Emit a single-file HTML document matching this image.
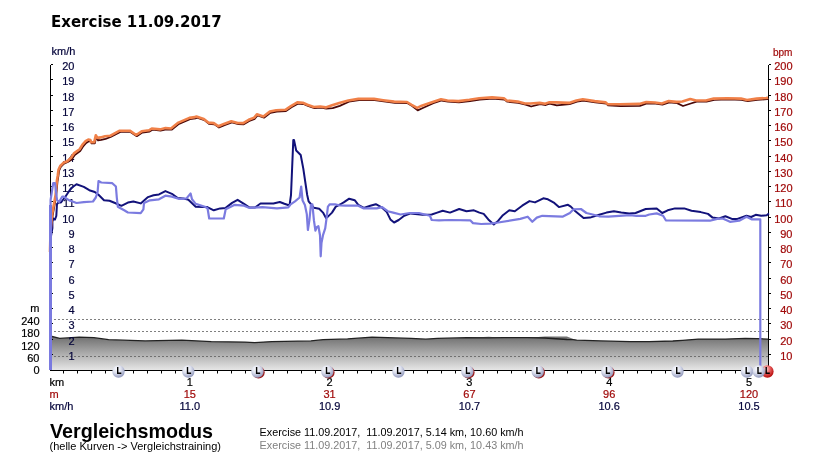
<!DOCTYPE html>
<html><head><meta charset="utf-8"><style>
html,body{margin:0;padding:0;background:#fff;}
body{width:818px;height:464px;overflow:hidden;position:relative;}
.t{position:absolute;white-space:pre;line-height:1;}
</style></head><body>
<svg width="818" height="464" viewBox="0 0 818 464" style="position:absolute;left:0;top:0">
<defs>
<linearGradient id="eg" x1="0" y1="336" x2="0" y2="370" gradientUnits="userSpaceOnUse">
<stop offset="0" stop-color="#6e6e6e"/><stop offset="1" stop-color="#e6e6e6"/></linearGradient>
<radialGradient id="bg" cx="0.38" cy="0.3" r="0.75"><stop offset="0" stop-color="#ffffff"/><stop offset="0.45" stop-color="#dde0ee"/><stop offset="1" stop-color="#8a92b8"/></radialGradient>
<radialGradient id="rg2" cx="0.38" cy="0.3" r="0.75"><stop offset="0" stop-color="#f0c0c0"/><stop offset="0.5" stop-color="#c04040"/><stop offset="1" stop-color="#901010"/></radialGradient>
<radialGradient id="rg" cx="0.38" cy="0.3" r="0.75"><stop offset="0" stop-color="#ffe0e0"/><stop offset="0.45" stop-color="#e86060"/><stop offset="1" stop-color="#b00000"/></radialGradient>
</defs>
<line x1="50" y1="319.5" x2="768" y2="319.5" stroke="#808080" stroke-width="1" stroke-dasharray="2,2"/>
<line x1="50" y1="331.5" x2="768" y2="331.5" stroke="#808080" stroke-width="1" stroke-dasharray="2,2"/>
<line x1="50" y1="356.5" x2="768" y2="356.5" stroke="#808080" stroke-width="1" stroke-dasharray="2,2"/>
<path d="M50,370 L50.0,336.0 L59.7,338.4 L79.2,337.2 L93.9,337.7 L108.6,339.7 L145.2,340.9 L181.9,340.2 L211.3,341.6 L245.0,342.1 L254.7,342.6 L271.8,341.6 L310.9,340.9 L323.1,339.7 L347.6,338.9 L372.0,337.2 L411.1,338.4 L425.8,339.2 L437.3,338.4 L466.7,337.7 L488.7,336.7 L503.3,337.7 L527.8,337.7 L544.9,336.5 L566.9,336.5 L576.7,340.2 L601.1,340.9 L630.0,341.6 L649.3,341.6 L672.8,341.0 L682.6,340.3 L698.2,339.1 L725.6,339.1 L745.2,338.3 L757.0,338.7 L768.0,339.1 L768,370 Z" fill="url(#eg)"/>
<polyline points="50.0,336.0 59.7,338.4 79.2,337.2 93.9,337.7 108.6,339.7 145.2,340.9 181.9,340.2 211.3,341.6 245.0,342.1 254.7,342.6 271.8,341.6 310.9,340.9 323.1,339.7 347.6,338.9 372.0,337.2 411.1,338.4 425.8,339.2 437.3,338.4 466.7,337.7 488.7,337.8 503.3,337.7 527.8,337.7 544.9,338.0 566.9,339.5 573.0,339.6 576.7,340.2 601.1,340.9 630.0,341.6 649.3,341.6 672.8,341.0 682.6,340.3 698.2,339.1 725.6,339.1 745.2,338.3 757.0,338.7 768.0,339.1" fill="none" stroke="#222" stroke-width="1.3"/>
<line x1="50" y1="356.5" x2="768" y2="356.5" stroke="#707070" stroke-width="1" stroke-dasharray="2,2"/>
<line x1="50.5" y1="65" x2="50.5" y2="370" stroke="#000" stroke-width="1"/>
<line x1="768.5" y1="65" x2="768.5" y2="370" stroke="#000" stroke-width="1"/>
<line x1="50" y1="370.5" x2="769" y2="370.5" stroke="#000" stroke-width="1"/>
<line x1="51" y1="354.5" x2="53" y2="354.5" stroke="#000" stroke-width="1"/>
<line x1="769" y1="354.5" x2="771" y2="354.5" stroke="#000" stroke-width="1"/>
<line x1="51" y1="339.5" x2="53" y2="339.5" stroke="#000" stroke-width="1"/>
<line x1="769" y1="339.5" x2="771" y2="339.5" stroke="#000" stroke-width="1"/>
<line x1="51" y1="323.5" x2="53" y2="323.5" stroke="#000" stroke-width="1"/>
<line x1="769" y1="323.5" x2="771" y2="323.5" stroke="#000" stroke-width="1"/>
<line x1="51" y1="308.5" x2="53" y2="308.5" stroke="#000" stroke-width="1"/>
<line x1="769" y1="308.5" x2="771" y2="308.5" stroke="#000" stroke-width="1"/>
<line x1="51" y1="293.5" x2="53" y2="293.5" stroke="#000" stroke-width="1"/>
<line x1="769" y1="293.5" x2="771" y2="293.5" stroke="#000" stroke-width="1"/>
<line x1="51" y1="278.5" x2="53" y2="278.5" stroke="#000" stroke-width="1"/>
<line x1="769" y1="278.5" x2="771" y2="278.5" stroke="#000" stroke-width="1"/>
<line x1="51" y1="262.5" x2="53" y2="262.5" stroke="#000" stroke-width="1"/>
<line x1="769" y1="262.5" x2="771" y2="262.5" stroke="#000" stroke-width="1"/>
<line x1="51" y1="247.5" x2="53" y2="247.5" stroke="#000" stroke-width="1"/>
<line x1="769" y1="247.5" x2="771" y2="247.5" stroke="#000" stroke-width="1"/>
<line x1="51" y1="232.5" x2="53" y2="232.5" stroke="#000" stroke-width="1"/>
<line x1="769" y1="232.5" x2="771" y2="232.5" stroke="#000" stroke-width="1"/>
<line x1="51" y1="217.5" x2="53" y2="217.5" stroke="#000" stroke-width="1"/>
<line x1="769" y1="217.5" x2="771" y2="217.5" stroke="#000" stroke-width="1"/>
<line x1="51" y1="201.5" x2="53" y2="201.5" stroke="#000" stroke-width="1"/>
<line x1="769" y1="201.5" x2="771" y2="201.5" stroke="#000" stroke-width="1"/>
<line x1="51" y1="186.5" x2="53" y2="186.5" stroke="#000" stroke-width="1"/>
<line x1="769" y1="186.5" x2="771" y2="186.5" stroke="#000" stroke-width="1"/>
<line x1="51" y1="171.5" x2="53" y2="171.5" stroke="#000" stroke-width="1"/>
<line x1="769" y1="171.5" x2="771" y2="171.5" stroke="#000" stroke-width="1"/>
<line x1="51" y1="156.5" x2="53" y2="156.5" stroke="#000" stroke-width="1"/>
<line x1="769" y1="156.5" x2="771" y2="156.5" stroke="#000" stroke-width="1"/>
<line x1="51" y1="140.5" x2="53" y2="140.5" stroke="#000" stroke-width="1"/>
<line x1="769" y1="140.5" x2="771" y2="140.5" stroke="#000" stroke-width="1"/>
<line x1="51" y1="125.5" x2="53" y2="125.5" stroke="#000" stroke-width="1"/>
<line x1="769" y1="125.5" x2="771" y2="125.5" stroke="#000" stroke-width="1"/>
<line x1="51" y1="110.5" x2="53" y2="110.5" stroke="#000" stroke-width="1"/>
<line x1="769" y1="110.5" x2="771" y2="110.5" stroke="#000" stroke-width="1"/>
<line x1="51" y1="95.5" x2="53" y2="95.5" stroke="#000" stroke-width="1"/>
<line x1="769" y1="95.5" x2="771" y2="95.5" stroke="#000" stroke-width="1"/>
<line x1="51" y1="79.5" x2="53" y2="79.5" stroke="#000" stroke-width="1"/>
<line x1="769" y1="79.5" x2="771" y2="79.5" stroke="#000" stroke-width="1"/>
<line x1="51" y1="64.5" x2="53" y2="64.5" stroke="#000" stroke-width="1"/>
<line x1="769" y1="64.5" x2="771" y2="64.5" stroke="#000" stroke-width="1"/>
<line x1="63.5" y1="370" x2="63.5" y2="373.5" stroke="#000" stroke-width="1"/>
<line x1="77.5" y1="370" x2="77.5" y2="373.5" stroke="#000" stroke-width="1"/>
<line x1="91.5" y1="370" x2="91.5" y2="373.5" stroke="#000" stroke-width="1"/>
<line x1="105.5" y1="370" x2="105.5" y2="373.5" stroke="#000" stroke-width="1"/>
<line x1="119.5" y1="370" x2="119.5" y2="373.5" stroke="#000" stroke-width="1"/>
<line x1="133.5" y1="370" x2="133.5" y2="373.5" stroke="#000" stroke-width="1"/>
<line x1="147.5" y1="370" x2="147.5" y2="373.5" stroke="#000" stroke-width="1"/>
<line x1="161.5" y1="370" x2="161.5" y2="373.5" stroke="#000" stroke-width="1"/>
<line x1="175.5" y1="370" x2="175.5" y2="373.5" stroke="#000" stroke-width="1"/>
<line x1="189.5" y1="370" x2="189.5" y2="373.5" stroke="#000" stroke-width="1"/>
<line x1="203.5" y1="370" x2="203.5" y2="373.5" stroke="#000" stroke-width="1"/>
<line x1="217.5" y1="370" x2="217.5" y2="373.5" stroke="#000" stroke-width="1"/>
<line x1="231.5" y1="370" x2="231.5" y2="373.5" stroke="#000" stroke-width="1"/>
<line x1="245.5" y1="370" x2="245.5" y2="373.5" stroke="#000" stroke-width="1"/>
<line x1="259.5" y1="370" x2="259.5" y2="373.5" stroke="#000" stroke-width="1"/>
<line x1="273.5" y1="370" x2="273.5" y2="373.5" stroke="#000" stroke-width="1"/>
<line x1="287.5" y1="370" x2="287.5" y2="373.5" stroke="#000" stroke-width="1"/>
<line x1="301.5" y1="370" x2="301.5" y2="373.5" stroke="#000" stroke-width="1"/>
<line x1="315.5" y1="370" x2="315.5" y2="373.5" stroke="#000" stroke-width="1"/>
<line x1="329.5" y1="370" x2="329.5" y2="373.5" stroke="#000" stroke-width="1"/>
<line x1="343.5" y1="370" x2="343.5" y2="373.5" stroke="#000" stroke-width="1"/>
<line x1="357.5" y1="370" x2="357.5" y2="373.5" stroke="#000" stroke-width="1"/>
<line x1="371.5" y1="370" x2="371.5" y2="373.5" stroke="#000" stroke-width="1"/>
<line x1="385.5" y1="370" x2="385.5" y2="373.5" stroke="#000" stroke-width="1"/>
<line x1="399.5" y1="370" x2="399.5" y2="373.5" stroke="#000" stroke-width="1"/>
<line x1="413.5" y1="370" x2="413.5" y2="373.5" stroke="#000" stroke-width="1"/>
<line x1="427.5" y1="370" x2="427.5" y2="373.5" stroke="#000" stroke-width="1"/>
<line x1="441.5" y1="370" x2="441.5" y2="373.5" stroke="#000" stroke-width="1"/>
<line x1="455.5" y1="370" x2="455.5" y2="373.5" stroke="#000" stroke-width="1"/>
<line x1="469.5" y1="370" x2="469.5" y2="373.5" stroke="#000" stroke-width="1"/>
<line x1="483.5" y1="370" x2="483.5" y2="373.5" stroke="#000" stroke-width="1"/>
<line x1="497.5" y1="370" x2="497.5" y2="373.5" stroke="#000" stroke-width="1"/>
<line x1="511.5" y1="370" x2="511.5" y2="373.5" stroke="#000" stroke-width="1"/>
<line x1="525.5" y1="370" x2="525.5" y2="373.5" stroke="#000" stroke-width="1"/>
<line x1="539.5" y1="370" x2="539.5" y2="373.5" stroke="#000" stroke-width="1"/>
<line x1="553.5" y1="370" x2="553.5" y2="373.5" stroke="#000" stroke-width="1"/>
<line x1="567.5" y1="370" x2="567.5" y2="373.5" stroke="#000" stroke-width="1"/>
<line x1="581.5" y1="370" x2="581.5" y2="373.5" stroke="#000" stroke-width="1"/>
<line x1="595.5" y1="370" x2="595.5" y2="373.5" stroke="#000" stroke-width="1"/>
<line x1="609.5" y1="370" x2="609.5" y2="373.5" stroke="#000" stroke-width="1"/>
<line x1="623.5" y1="370" x2="623.5" y2="373.5" stroke="#000" stroke-width="1"/>
<line x1="637.5" y1="370" x2="637.5" y2="373.5" stroke="#000" stroke-width="1"/>
<line x1="651.5" y1="370" x2="651.5" y2="373.5" stroke="#000" stroke-width="1"/>
<line x1="665.5" y1="370" x2="665.5" y2="373.5" stroke="#000" stroke-width="1"/>
<line x1="679.5" y1="370" x2="679.5" y2="373.5" stroke="#000" stroke-width="1"/>
<line x1="693.5" y1="370" x2="693.5" y2="373.5" stroke="#000" stroke-width="1"/>
<line x1="707.5" y1="370" x2="707.5" y2="373.5" stroke="#000" stroke-width="1"/>
<line x1="721.5" y1="370" x2="721.5" y2="373.5" stroke="#000" stroke-width="1"/>
<line x1="735.5" y1="370" x2="735.5" y2="373.5" stroke="#000" stroke-width="1"/>
<line x1="749.5" y1="370" x2="749.5" y2="373.5" stroke="#000" stroke-width="1"/>
<line x1="762.5" y1="370" x2="762.5" y2="373.5" stroke="#000" stroke-width="1"/>
<text stroke="#04043a" stroke-width="0.2" x="74.5" y="359.85" text-anchor="end" fill="#04043a" style="font-family:'Liberation Sans',Arial,sans-serif;font-size:11px">1</text>
<text stroke="#a00a0a" stroke-width="0.2" x="792.5" y="359.85" text-anchor="end" fill="#a00a0a" style="font-family:'Liberation Sans',Arial,sans-serif;font-size:11px">10</text>
<text stroke="#04043a" stroke-width="0.2" x="74.5" y="344.85" text-anchor="end" fill="#04043a" style="font-family:'Liberation Sans',Arial,sans-serif;font-size:11px">2</text>
<text stroke="#a00a0a" stroke-width="0.2" x="792.5" y="344.85" text-anchor="end" fill="#a00a0a" style="font-family:'Liberation Sans',Arial,sans-serif;font-size:11px">20</text>
<text stroke="#04043a" stroke-width="0.2" x="74.5" y="328.85" text-anchor="end" fill="#04043a" style="font-family:'Liberation Sans',Arial,sans-serif;font-size:11px">3</text>
<text stroke="#a00a0a" stroke-width="0.2" x="792.5" y="328.85" text-anchor="end" fill="#a00a0a" style="font-family:'Liberation Sans',Arial,sans-serif;font-size:11px">30</text>
<text stroke="#04043a" stroke-width="0.2" x="74.5" y="313.85" text-anchor="end" fill="#04043a" style="font-family:'Liberation Sans',Arial,sans-serif;font-size:11px">4</text>
<text stroke="#a00a0a" stroke-width="0.2" x="792.5" y="313.85" text-anchor="end" fill="#a00a0a" style="font-family:'Liberation Sans',Arial,sans-serif;font-size:11px">40</text>
<text stroke="#04043a" stroke-width="0.2" x="74.5" y="298.85" text-anchor="end" fill="#04043a" style="font-family:'Liberation Sans',Arial,sans-serif;font-size:11px">5</text>
<text stroke="#a00a0a" stroke-width="0.2" x="792.5" y="298.85" text-anchor="end" fill="#a00a0a" style="font-family:'Liberation Sans',Arial,sans-serif;font-size:11px">50</text>
<text stroke="#04043a" stroke-width="0.2" x="74.5" y="283.85" text-anchor="end" fill="#04043a" style="font-family:'Liberation Sans',Arial,sans-serif;font-size:11px">6</text>
<text stroke="#a00a0a" stroke-width="0.2" x="792.5" y="283.85" text-anchor="end" fill="#a00a0a" style="font-family:'Liberation Sans',Arial,sans-serif;font-size:11px">60</text>
<text stroke="#04043a" stroke-width="0.2" x="74.5" y="267.85" text-anchor="end" fill="#04043a" style="font-family:'Liberation Sans',Arial,sans-serif;font-size:11px">7</text>
<text stroke="#a00a0a" stroke-width="0.2" x="792.5" y="267.85" text-anchor="end" fill="#a00a0a" style="font-family:'Liberation Sans',Arial,sans-serif;font-size:11px">70</text>
<text stroke="#04043a" stroke-width="0.2" x="74.5" y="252.85" text-anchor="end" fill="#04043a" style="font-family:'Liberation Sans',Arial,sans-serif;font-size:11px">8</text>
<text stroke="#a00a0a" stroke-width="0.2" x="792.5" y="252.85" text-anchor="end" fill="#a00a0a" style="font-family:'Liberation Sans',Arial,sans-serif;font-size:11px">80</text>
<text stroke="#04043a" stroke-width="0.2" x="74.5" y="237.85" text-anchor="end" fill="#04043a" style="font-family:'Liberation Sans',Arial,sans-serif;font-size:11px">9</text>
<text stroke="#a00a0a" stroke-width="0.2" x="792.5" y="237.85" text-anchor="end" fill="#a00a0a" style="font-family:'Liberation Sans',Arial,sans-serif;font-size:11px">90</text>
<text stroke="#04043a" stroke-width="0.2" x="74.5" y="222.85" text-anchor="end" fill="#04043a" style="font-family:'Liberation Sans',Arial,sans-serif;font-size:11px">10</text>
<text stroke="#a00a0a" stroke-width="0.2" x="792.5" y="222.85" text-anchor="end" fill="#a00a0a" style="font-family:'Liberation Sans',Arial,sans-serif;font-size:11px">100</text>
<text stroke="#04043a" stroke-width="0.2" x="74.5" y="206.85" text-anchor="end" fill="#04043a" style="font-family:'Liberation Sans',Arial,sans-serif;font-size:11px">11</text>
<text stroke="#a00a0a" stroke-width="0.2" x="792.5" y="206.85" text-anchor="end" fill="#a00a0a" style="font-family:'Liberation Sans',Arial,sans-serif;font-size:11px">110</text>
<text stroke="#04043a" stroke-width="0.2" x="74.5" y="191.85" text-anchor="end" fill="#04043a" style="font-family:'Liberation Sans',Arial,sans-serif;font-size:11px">12</text>
<text stroke="#a00a0a" stroke-width="0.2" x="792.5" y="191.85" text-anchor="end" fill="#a00a0a" style="font-family:'Liberation Sans',Arial,sans-serif;font-size:11px">120</text>
<text stroke="#04043a" stroke-width="0.2" x="74.5" y="176.85" text-anchor="end" fill="#04043a" style="font-family:'Liberation Sans',Arial,sans-serif;font-size:11px">13</text>
<text stroke="#a00a0a" stroke-width="0.2" x="792.5" y="176.85" text-anchor="end" fill="#a00a0a" style="font-family:'Liberation Sans',Arial,sans-serif;font-size:11px">130</text>
<text stroke="#04043a" stroke-width="0.2" x="74.5" y="161.85" text-anchor="end" fill="#04043a" style="font-family:'Liberation Sans',Arial,sans-serif;font-size:11px">14</text>
<text stroke="#a00a0a" stroke-width="0.2" x="792.5" y="161.85" text-anchor="end" fill="#a00a0a" style="font-family:'Liberation Sans',Arial,sans-serif;font-size:11px">140</text>
<text stroke="#04043a" stroke-width="0.2" x="74.5" y="145.85" text-anchor="end" fill="#04043a" style="font-family:'Liberation Sans',Arial,sans-serif;font-size:11px">15</text>
<text stroke="#a00a0a" stroke-width="0.2" x="792.5" y="145.85" text-anchor="end" fill="#a00a0a" style="font-family:'Liberation Sans',Arial,sans-serif;font-size:11px">150</text>
<text stroke="#04043a" stroke-width="0.2" x="74.5" y="130.85" text-anchor="end" fill="#04043a" style="font-family:'Liberation Sans',Arial,sans-serif;font-size:11px">16</text>
<text stroke="#a00a0a" stroke-width="0.2" x="792.5" y="130.85" text-anchor="end" fill="#a00a0a" style="font-family:'Liberation Sans',Arial,sans-serif;font-size:11px">160</text>
<text stroke="#04043a" stroke-width="0.2" x="74.5" y="115.85" text-anchor="end" fill="#04043a" style="font-family:'Liberation Sans',Arial,sans-serif;font-size:11px">17</text>
<text stroke="#a00a0a" stroke-width="0.2" x="792.5" y="115.85" text-anchor="end" fill="#a00a0a" style="font-family:'Liberation Sans',Arial,sans-serif;font-size:11px">170</text>
<text stroke="#04043a" stroke-width="0.2" x="74.5" y="100.85" text-anchor="end" fill="#04043a" style="font-family:'Liberation Sans',Arial,sans-serif;font-size:11px">18</text>
<text stroke="#a00a0a" stroke-width="0.2" x="792.5" y="100.85" text-anchor="end" fill="#a00a0a" style="font-family:'Liberation Sans',Arial,sans-serif;font-size:11px">180</text>
<text stroke="#04043a" stroke-width="0.2" x="74.5" y="84.85" text-anchor="end" fill="#04043a" style="font-family:'Liberation Sans',Arial,sans-serif;font-size:11px">19</text>
<text stroke="#a00a0a" stroke-width="0.2" x="792.5" y="84.85" text-anchor="end" fill="#a00a0a" style="font-family:'Liberation Sans',Arial,sans-serif;font-size:11px">190</text>
<text stroke="#04043a" stroke-width="0.2" x="74.5" y="69.85" text-anchor="end" fill="#04043a" style="font-family:'Liberation Sans',Arial,sans-serif;font-size:11px">20</text>
<text stroke="#a00a0a" stroke-width="0.2" x="792.5" y="69.85" text-anchor="end" fill="#a00a0a" style="font-family:'Liberation Sans',Arial,sans-serif;font-size:11px">200</text>
<text stroke="#000" stroke-width="0.2" x="39.5" y="374.4" text-anchor="end" fill="#000" style="font-family:'Liberation Sans',Arial,sans-serif;font-size:11px">0</text>
<text stroke="#000" stroke-width="0.2" x="39.5" y="362.0" text-anchor="end" fill="#000" style="font-family:'Liberation Sans',Arial,sans-serif;font-size:11px">60</text>
<text stroke="#000" stroke-width="0.2" x="39.5" y="349.6" text-anchor="end" fill="#000" style="font-family:'Liberation Sans',Arial,sans-serif;font-size:11px">120</text>
<text stroke="#000" stroke-width="0.2" x="39.5" y="337.2" text-anchor="end" fill="#000" style="font-family:'Liberation Sans',Arial,sans-serif;font-size:11px">180</text>
<text stroke="#000" stroke-width="0.2" x="39.5" y="324.8" text-anchor="end" fill="#000" style="font-family:'Liberation Sans',Arial,sans-serif;font-size:11px">240</text>
<text stroke="#000" stroke-width="0.2" x="39.5" y="312.4" text-anchor="end" fill="#000" style="font-family:'Liberation Sans',Arial,sans-serif;font-size:11px">m</text>
<text stroke="#04043a" stroke-width="0.2" x="51.5" y="55.2" fill="#04043a" style="font-family:'Liberation Sans',Arial,sans-serif;font-size:11px">km/h</text>
<text stroke="#a00a0a" stroke-width="0.2" x="772.9" y="55.6" fill="#a00a0a" style="font-family:'Liberation Sans',Arial,sans-serif;font-size:11px" textLength="19.6" lengthAdjust="spacingAndGlyphs">bpm</text>
<text stroke="#000" stroke-width="0.2" x="49.5" y="386" fill="#000" style="font-family:'Liberation Sans',Arial,sans-serif;font-size:11px">km</text>
<text stroke="#a00a0a" stroke-width="0.2" x="49.5" y="397.6" fill="#a00a0a" style="font-family:'Liberation Sans',Arial,sans-serif;font-size:11px">m</text>
<text stroke="#04043a" stroke-width="0.2" x="49.5" y="410" fill="#04043a" style="font-family:'Liberation Sans',Arial,sans-serif;font-size:11px">km/h</text>
<text stroke="#000" stroke-width="0.2" x="189.8" y="385.8" text-anchor="middle" fill="#000" style="font-family:'Liberation Sans',Arial,sans-serif;font-size:11px">1</text>
<text stroke="#a00a0a" stroke-width="0.2" x="189.8" y="397.6" text-anchor="middle" fill="#a00a0a" style="font-family:'Liberation Sans',Arial,sans-serif;font-size:11px">15</text>
<text stroke="#04043a" stroke-width="0.2" x="189.8" y="410" text-anchor="middle" fill="#04043a" style="font-family:'Liberation Sans',Arial,sans-serif;font-size:11px">11.0</text>
<text stroke="#000" stroke-width="0.2" x="329.6" y="385.8" text-anchor="middle" fill="#000" style="font-family:'Liberation Sans',Arial,sans-serif;font-size:11px">2</text>
<text stroke="#a00a0a" stroke-width="0.2" x="329.6" y="397.6" text-anchor="middle" fill="#a00a0a" style="font-family:'Liberation Sans',Arial,sans-serif;font-size:11px">31</text>
<text stroke="#04043a" stroke-width="0.2" x="329.6" y="410" text-anchor="middle" fill="#04043a" style="font-family:'Liberation Sans',Arial,sans-serif;font-size:11px">10.9</text>
<text stroke="#000" stroke-width="0.2" x="469.4" y="385.8" text-anchor="middle" fill="#000" style="font-family:'Liberation Sans',Arial,sans-serif;font-size:11px">3</text>
<text stroke="#a00a0a" stroke-width="0.2" x="469.4" y="397.6" text-anchor="middle" fill="#a00a0a" style="font-family:'Liberation Sans',Arial,sans-serif;font-size:11px">67</text>
<text stroke="#04043a" stroke-width="0.2" x="469.4" y="410" text-anchor="middle" fill="#04043a" style="font-family:'Liberation Sans',Arial,sans-serif;font-size:11px">10.7</text>
<text stroke="#000" stroke-width="0.2" x="609.2" y="385.8" text-anchor="middle" fill="#000" style="font-family:'Liberation Sans',Arial,sans-serif;font-size:11px">4</text>
<text stroke="#a00a0a" stroke-width="0.2" x="609.2" y="397.6" text-anchor="middle" fill="#a00a0a" style="font-family:'Liberation Sans',Arial,sans-serif;font-size:11px">96</text>
<text stroke="#04043a" stroke-width="0.2" x="609.2" y="410" text-anchor="middle" fill="#04043a" style="font-family:'Liberation Sans',Arial,sans-serif;font-size:11px">10.6</text>
<text stroke="#000" stroke-width="0.2" x="749.0" y="385.8" text-anchor="middle" fill="#000" style="font-family:'Liberation Sans',Arial,sans-serif;font-size:11px">5</text>
<text stroke="#a00a0a" stroke-width="0.2" x="749.0" y="397.6" text-anchor="middle" fill="#a00a0a" style="font-family:'Liberation Sans',Arial,sans-serif;font-size:11px">120</text>
<text stroke="#04043a" stroke-width="0.2" x="749.0" y="410" text-anchor="middle" fill="#04043a" style="font-family:'Liberation Sans',Arial,sans-serif;font-size:11px">10.5</text>
<polyline points="50.6,252.8 51.1,232.8 52.6,215.8 56.2,195.8 56.8,188.8 57.5,181.4 58.4,176.0 59.1,170.6 60.8,166.8 64.0,163.6 67.8,162.0 71.5,159.7 74.8,154.9 80.2,151.1 82.9,146.7 86.2,143.0 88.9,141.3 91.0,141.3 91.6,143.4 94.8,143.4 96.4,136.4 98.0,140.4 101.2,139.9 105.6,138.8 110.6,137.0 120.3,131.9 130.4,131.9 136.8,136.2 142.3,132.5 149.6,131.5 152.4,129.7 160.6,130.6 166.1,129.3 171.6,129.7 179.0,123.8 190.0,119.1 195.5,118.3 197.0,117.7 204.4,120.1 208.9,123.8 214.4,124.3 219.0,127.5 224.5,125.1 231.9,122.5 238.3,124.2 243.8,124.3 249.3,121.0 254.8,118.8 257.5,115.5 264.0,117.7 270.4,112.8 276.8,111.5 286.0,111.0 291.5,107.3 297.9,103.6 303.4,104.0 308.0,106.0 314.4,108.2 320.8,107.7 326.3,108.6 332.7,108.2 339.8,105.9 348.9,101.7 359.0,100.1 367.3,99.9 374.6,100.1 383.8,101.4 394.8,102.8 407.6,103.2 412.2,106.0 417.7,110.4 422.3,108.2 433.3,103.2 441.6,100.5 448.0,101.7 459.0,102.3 470.0,101.0 479.8,99.5 492.6,98.6 504.5,99.5 507.3,101.7 518.3,102.8 525.6,104.7 531.1,106.5 540.3,104.1 545.8,105.0 549.5,103.6 556.8,105.4 569.6,104.1 577.0,101.7 583.4,100.5 595.3,102.3 606.3,103.6 608.1,105.4 620.6,106.2 639.9,105.9 646.8,103.3 655.6,103.7 662.4,104.7 669.3,102.3 677.1,103.1 683.0,106.0 690.8,103.5 696.7,101.7 706.5,101.7 714.3,99.8 728.0,99.4 741.6,99.8 747.6,101.2 757.3,99.8 767.1,99.2 768.6,98.7" fill="none" stroke="#4a0808" stroke-width="1.8" stroke-linejoin="round"/>
<polyline points="51.0,370.0 51.0,236.0 52.4,228.0 52.4,222.0 53.0,218.5 55.0,219.5 56.3,216.0 57.0,204.0 58.5,202.5 61.0,202.5 65.5,196.5 71.0,188.3 76.5,184.3 83.8,186.9 89.3,190.2 94.8,192.0 98.5,194.8 104.0,200.3 109.5,200.8 115.0,203.0 121.4,205.8 127.9,202.6 133.4,201.5 140.7,203.4 148.0,197.1 153.5,195.3 159.0,194.4 165.4,191.1 171.9,193.8 177.4,197.9 182.9,198.4 188.4,199.7 195.7,206.7 203.0,207.0 207.3,207.1 213.8,210.3 220.2,208.4 225.7,207.9 232.1,202.9 237.6,199.8 244.0,203.8 249.5,207.5 255.0,207.5 260.5,203.5 273.4,203.5 279.8,202.0 284.4,203.8 289.5,205.5 291.0,195.0 293.3,140.0 294.0,140.0 296.2,150.5 300.7,155.0 303.3,168.6 307.2,195.0 308.6,201.3 311.7,205.0 313.9,207.8 319.2,208.8 323.0,212.6 326.0,217.9 328.2,216.4 332.0,212.6 335.8,206.6 340.0,204.5 343.7,202.4 349.2,198.7 354.7,200.2 358.3,204.8 363.8,207.9 370.3,205.7 375.8,204.2 381.3,207.1 386.8,212.1 390.4,219.4 394.1,222.5 398.7,220.0 404.2,215.8 410.6,213.4 415.2,213.9 422.5,214.8 431.7,214.5 437.2,212.6 442.7,210.8 450.0,212.6 459.2,209.0 466.5,211.2 473.9,210.3 479.4,212.6 483.7,213.9 488.3,219.4 493.8,224.4 498.3,220.7 502.9,215.2 509.3,210.3 514.8,211.2 522.2,205.7 529.5,201.1 535.0,202.4 543.3,198.3 547.9,199.3 554.3,202.9 558.9,207.1 568.0,204.8 570.8,206.6 575.4,211.2 583.6,218.1 590.0,217.6 599.2,214.8 606.5,212.6 613.9,211.2 621.2,212.6 629.2,213.4 635.6,213.0 645.7,209.0 656.7,208.4 662.2,213.0 667.7,210.3 675.0,208.4 684.2,208.4 691.5,210.8 700.7,212.1 708.0,213.9 712.6,217.6 719.0,218.5 725.4,216.3 731.9,218.9 737.4,218.9 746.5,215.8 751.1,217.0 755.7,214.8 761.2,215.8 766.7,215.2 768.9,213.4" fill="none" stroke="#12127a" stroke-width="2" stroke-linejoin="round"/>
<polyline points="50.0,252.0 50.5,232.0 52.0,215.0 55.6,195.0 56.2,188.0 56.9,180.6 57.8,175.2 58.5,169.8 60.2,166.0 63.4,162.8 67.2,161.2 70.9,157.9 74.2,153.1 79.6,149.3 82.3,144.9 85.6,141.2 88.3,139.5 90.4,140.1 91.0,142.2 94.2,142.2 95.8,135.2 97.4,137.9 100.6,137.4 105.0,136.3 110.0,135.8 119.7,130.7 129.8,130.7 136.2,135.0 141.7,131.3 149.0,130.3 151.8,128.5 160.0,129.4 165.5,128.1 171.0,128.5 178.4,122.6 189.4,117.9 194.9,117.1 196.4,116.5 203.8,118.9 208.3,122.6 213.8,123.1 218.4,126.3 223.9,123.9 231.3,121.3 237.7,123.0 243.2,123.1 248.7,119.8 254.2,117.6 256.9,114.3 263.4,116.5 269.8,111.6 276.2,110.3 285.4,109.8 290.9,106.1 297.3,102.4 302.8,102.8 307.4,104.8 313.8,107.0 320.2,106.5 325.7,107.4 332.1,105.2 339.2,102.9 348.3,100.5 358.4,98.9 366.7,98.7 374.0,98.9 383.2,100.2 394.2,101.6 407.0,102.0 411.6,104.8 417.1,107.9 421.7,105.7 432.7,102.0 441.0,99.3 447.4,100.5 458.4,101.1 469.4,99.8 479.2,98.3 492.0,97.4 503.9,98.3 506.7,100.5 517.7,101.6 525.0,103.5 530.5,103.5 539.7,102.9 545.2,103.8 548.9,102.4 556.2,102.4 569.0,102.9 576.4,100.5 582.8,99.3 594.7,101.1 605.7,102.4 607.5,104.2 620.0,104.2 639.3,103.9 646.2,102.1 655.0,102.5 661.8,103.5 668.7,101.1 676.5,101.9 682.4,101.5 690.2,99.0 696.1,100.5 705.9,100.5 713.7,98.6 727.4,98.2 741.0,98.6 747.0,100.0 756.7,98.6 766.5,98.0 768.0,97.5" fill="none" stroke="#f08048" stroke-width="2.6" stroke-linejoin="round"/>
<line x1="50.5" y1="370" x2="50.5" y2="205" stroke="#7b7be0" stroke-width="3"/>
<polyline points="50.6,370.0 50.6,200.0 53.2,183.2 55.0,183.2 57.0,200.0 59.0,202.0 62.3,196.5 63.7,196.6 69.2,200.3 76.5,203.0 83.8,202.1 93.0,201.5 95.8,197.5 97.6,192.0 98.5,181.0 101.3,182.5 112.3,183.2 115.9,186.5 116.8,197.5 117.8,206.7 124.2,210.3 127.9,212.5 140.7,213.1 143.4,209.4 144.0,203.0 149.9,200.3 159.0,199.3 165.4,195.7 171.9,196.6 179.2,199.0 186.5,198.4 190.6,193.5 192.0,199.3 195.7,203.9 204.9,206.7 207.6,208.5 209.2,218.5 223.8,218.5 225.7,209.3 234.8,204.8 244.0,205.7 249.5,207.9 262.4,207.1 277.0,208.4 288.3,207.3 290.6,204.3 295.0,201.3 299.6,197.5 301.2,186.5 302.6,200.6 304.9,205.0 306.8,214.1 307.9,230.0 309.4,220.2 310.9,205.0 312.4,204.3 313.9,220.2 315.4,230.7 316.9,226.9 318.4,226.2 320.0,235.2 320.7,256.3 321.5,242.8 323.0,235.2 325.2,228.4 326.7,217.1 327.9,206.6 329.8,204.3 335.0,204.3 340.0,205.5 345.5,205.7 358.3,205.7 363.8,208.4 376.7,208.4 382.2,207.1 387.7,211.2 393.2,212.6 400.5,214.5 409.7,213.0 418.9,213.0 429.9,215.8 431.7,220.0 439.0,220.3 450.0,220.0 470.2,220.3 473.0,223.1 481.2,224.0 490.0,223.6 498.3,222.5 520.3,218.9 527.7,216.7 532.3,221.8 536.8,217.6 542.3,215.8 562.5,216.7 569.9,213.0 573.5,209.3 580.9,209.0 586.4,213.0 593.7,214.8 599.2,216.3 608.4,216.7 630.0,215.2 636.5,215.8 645.7,215.8 649.3,214.5 656.7,213.4 663.1,215.8 665.8,220.3 709.9,220.7 717.2,218.9 722.7,218.5 730.0,221.8 739.2,220.7 746.5,216.7 752.0,219.4 760.3,219.4 760.3,370.0" fill="none" stroke="#7b7be0" stroke-width="2.2" stroke-linejoin="round"/>
<circle cx="767.4" cy="371.5" r="6.2" fill="url(#rg)"/>
<path d="M766.2,367 V373.2 H769.8" fill="none" stroke="#000" stroke-width="1.4"/>
<circle cx="118.5" cy="371.5" r="6.2" fill="url(#bg)"/>
<path d="M117.7,367 V373.2 H121.3" fill="none" stroke="#000" stroke-width="1.4"/>
<circle cx="188.3" cy="371.5" r="6.2" fill="url(#bg)"/>
<path d="M187.5,367 V373.2 H191.1" fill="none" stroke="#000" stroke-width="1.4"/>
<circle cx="258.5" cy="372.4" r="6.2" fill="url(#rg2)"/>
<circle cx="257.4" cy="371.5" r="6.2" fill="url(#bg)"/>
<path d="M256.6,367 V373.2 H260.2" fill="none" stroke="#000" stroke-width="1.4"/>
<circle cx="328.40000000000003" cy="372.4" r="6.2" fill="url(#rg2)"/>
<circle cx="327.3" cy="371.5" r="6.2" fill="url(#bg)"/>
<path d="M326.5,367 V373.2 H330.1" fill="none" stroke="#000" stroke-width="1.4"/>
<circle cx="398.4" cy="371.5" r="6.2" fill="url(#bg)"/>
<path d="M397.6,367 V373.2 H401.2" fill="none" stroke="#000" stroke-width="1.4"/>
<circle cx="468.40000000000003" cy="372.4" r="6.2" fill="url(#rg2)"/>
<circle cx="467.3" cy="371.5" r="6.2" fill="url(#bg)"/>
<path d="M466.5,367 V373.2 H470.1" fill="none" stroke="#000" stroke-width="1.4"/>
<circle cx="538.8000000000001" cy="372.4" r="6.2" fill="url(#rg2)"/>
<circle cx="537.7" cy="371.5" r="6.2" fill="url(#bg)"/>
<path d="M536.9,367 V373.2 H540.5" fill="none" stroke="#000" stroke-width="1.4"/>
<circle cx="608.4" cy="372.4" r="6.2" fill="url(#rg2)"/>
<circle cx="607.3" cy="371.5" r="6.2" fill="url(#bg)"/>
<path d="M606.5,367 V373.2 H610.1" fill="none" stroke="#000" stroke-width="1.4"/>
<circle cx="677.5" cy="371.5" r="6.2" fill="url(#bg)"/>
<path d="M676.7,367 V373.2 H680.3" fill="none" stroke="#000" stroke-width="1.4"/>
<circle cx="747" cy="371.5" r="6.2" fill="url(#bg)"/>
<path d="M746.2,367 V373.2 H749.8" fill="none" stroke="#000" stroke-width="1.4"/>
<circle cx="758.8" cy="371.5" r="6.2" fill="url(#bg)"/>
<path d="M758.0,367 V373.2 H761.6" fill="none" stroke="#000" stroke-width="1.4"/>
<text x="51" y="26.5" fill="#000" style="font-family:'DejaVu Sans',Verdana,sans-serif;font-weight:bold;font-size:15px">Exercise 11.09.2017</text>
<text x="50" y="437.5" fill="#000" style="font-family:'Liberation Sans',Arial,sans-serif;font-weight:bold;font-size:19.7px">Vergleichsmodus</text>
<text x="49.5" y="449.5" fill="#000" style="font-family:'Liberation Sans',Arial,sans-serif;font-size:11px">(helle Kurven -&gt; Vergleichstraining)</text>
<text x="259.6" y="435.8" fill="#000" style="font-family:'Liberation Sans',Arial,sans-serif;font-size:11px;white-space:pre" xml:space="preserve" textLength="264" lengthAdjust="spacingAndGlyphs">Exercise 11.09.2017,  11.09.2017, 5.14 km, 10.60 km/h</text>
<text x="259.6" y="448.8" fill="#808080" style="font-family:'Liberation Sans',Arial,sans-serif;font-size:11px;white-space:pre" xml:space="preserve" textLength="264" lengthAdjust="spacingAndGlyphs">Exercise 11.09.2017,  11.09.2017, 5.09 km, 10.43 km/h</text>
</svg>
</body></html>
